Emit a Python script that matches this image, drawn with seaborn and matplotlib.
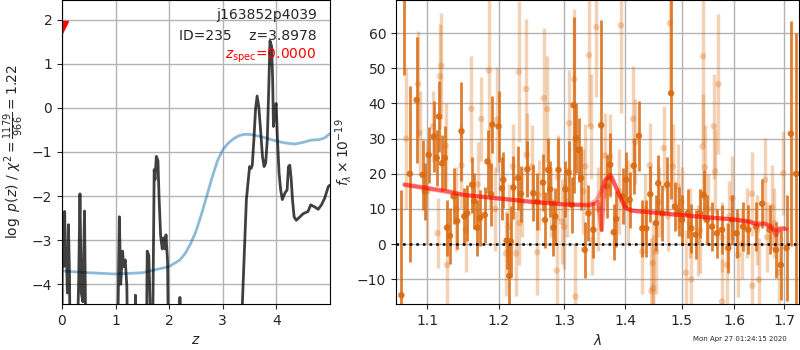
import numpy as np
import pandas as pd
import matplotlib
matplotlib.use("Agg")
import matplotlib.pyplot as plt
import matplotlib.ticker as mticker
import seaborn as sns

# ---------------- data: left panel ----------------
z_grid = [0.0, 0.005, 0.02, 0.035, 0.05, 0.065, 0.08, 0.10, 0.12, 0.14, 0.155,
          0.27, 0.31, 0.335, 0.36, 0.39, 0.42, 0.45,
          1.03, 1.07, 1.095, 1.13, 1.15, 1.18, 1.21, 1.23,
          1.35, 1.37, 1.39,
          1.57, 1.59, 1.62, 1.64, 1.67, 1.685, 1.72, 1.735, 1.76, 1.79, 1.81,
          1.84, 1.87, 1.89, 1.92, 1.94, 1.97, 1.99,
          2.18, 2.20, 2.22,
          3.36, 3.44, 3.50, 3.53, 3.55, 3.58, 3.61, 3.64, 3.67, 3.70, 3.74,
          3.77, 3.80, 3.83, 3.86, 3.88, 3.91, 3.93, 3.945, 3.97, 3.995, 4.02,
          4.05, 4.08, 4.11, 4.16, 4.20, 4.225, 4.25, 4.275, 4.30, 4.33, 4.37,
          4.44, 4.50, 4.59, 4.64, 4.72, 4.78, 4.84, 4.90, 4.97, 5.0]
logpz = [-6, -2.8, -2.76, -3.6, -2.35, -3.5, -3.2, -4.2, -2.65, -3.8, -6,
         -6, -4.0, -1.95, -4.2, -4.4, -2.34, -6,
         -6, -2.47, -4.0, -3.25, -3.6, -3.45, -4.05, -6,
         -6, -4.25, -6,
         -6, -3.25, -3.35, -4.3, -6, -6, -1.4, -1.63, -1.1, -1.2, -2.0,
         -2.9, -3.2, -2.95, -3.2, -2.88, -3.5, -6,
         -6, -4.3, -6,
         -4.6, -2.08, -1.33, -1.37, -1.3, -0.72, -0.04, 0.27, 0.04, -0.42, -1.1,
         -1.33, -1.25, -0.72, 0.57, 1.52, 1.4, 0.65, -0.42, -0.04, 0.1, -0.72,
         -1.48, -1.86, -2.08, -1.93, -1.86, -1.33, -1.3, -1.6, -2.08, -2.47, -2.55,
         -2.47, -2.4, -2.35, -2.2, -2.25, -2.3, -2.2, -2.05, -1.78, -1.75]

z_chi = [0.0, 0.5, 1.0, 1.5, 2.0, 2.2, 2.3, 2.4, 2.5, 2.6, 2.7, 2.8, 2.9, 3.0,
         3.1, 3.2, 3.3, 3.4, 3.5, 3.6, 3.7, 3.8, 3.9, 4.0, 4.1, 4.2, 4.35,
         4.5, 4.65, 4.8, 4.9, 5.0]
chi_scaled = [-3.7, -3.74, -3.77, -3.74, -3.6, -3.45, -3.3, -3.08, -2.8, -2.42,
              -2.0, -1.58, -1.2, -0.95, -0.8, -0.7, -0.63, -0.6, -0.6, -0.62,
              -0.65, -0.68, -0.72, -0.75, -0.78, -0.8, -0.82, -0.78, -0.73,
              -0.72, -0.68, -0.58]

# ---------------- data: right panel ----------------
wave_a = [1.066, 1.070, 1.077, 1.086, 1.094, 1.097, 1.102, 1.109, 1.113, 1.116,
          1.120, 1.124, 1.127, 1.131, 1.136, 1.141, 1.147, 1.151, 1.155, 1.162,
          1.165, 1.169, 1.173, 1.180, 1.184, 1.189, 1.191, 1.200, 1.205, 1.207,
          1.212, 1.216, 1.218, 1.222, 1.229, 1.233, 1.243, 1.252, 1.258, 1.267,
          1.270, 1.275, 1.278, 1.283, 1.286, 1.291, 1.302, 1.307, 1.312, 1.315,
          1.319, 1.323, 1.327, 1.333, 1.339, 1.347, 1.360, 1.370, 1.375, 1.381,
          1.385, 1.396, 1.402, 1.408, 1.415, 1.424, 1.430, 1.437, 1.444, 1.454,
          1.458, 1.465, 1.474, 1.481, 1.488, 1.495, 1.501, 1.511, 1.518, 1.526,
          1.534, 1.541, 1.547, 1.557, 1.566, 1.576, 1.588, 1.595, 1.604, 1.617,
          1.627, 1.643, 1.655, 1.670, 1.683, 1.693, 1.705, 1.714, 1.725]
flux_a = [-14.5, 75.0, 20.0, 41.0, 19.7, 15.0, 25.4, 30.6, 24.5, 36.3,
          23.0, 24.5, 4.7, 2.4, 13.6, 6.6, 32.1, 7.9, 8.8, 16.9,
          12.2, 4.7, 7.4, 8.3, 23.5, 14.2, 34.0, 33.5, 15.9, 18.3,
          1.0, -9.0, 0.8, 16.1, 18.8, 14.3, 21.3, 14.5, 12.1, 17.5,
          6.9, 21.1, 15.6, 4.7, 7.9, 21.1, 15.6, 20.4, 11.2, 39.5,
          30.1, 26.8, 18.8, -1.6, 8.8, 4.1, 33.8, 16.4, 22.6, 3.4,
          7.2, 13.6, 18.3, 12.6, 22.3, 30.8, 4.5, 4.5, 14.2, 6.0,
          17.3, 8.8, 16.9, 42.9, 10.7, 9.3, 6.9, 8.8, 4.5, 2.7,
          8.8, 14.0, 6.9, 5.0, 3.1, 4.1, -1.1, 6.9, 3.1, 5.0,
          4.1, 5.0, 11.5, 4.1, -1.6, -5.9, -1.1, 31.4, 20.0]
err_a = [30, 27, 25, 18, 10, 8, 8, 10, 8, 10,
         8, 9, 8, 8, 8, 8, 14, 8, 8, 8,
         8, 8, 8, 8, 9, 9, 8, 10, 9, 8,
         8, 10, 10, 9, 9, 8, 8, 8, 8, 8,
         8, 9, 8, 8, 8, 9, 8, 9, 8, 25,
         10, 9, 9, 8, 8, 8, 30, 9, 9, 8,
         8, 8, 8, 8, 8, 10, 8, 8, 8, 8,
         8, 8, 8, 30, 7, 7, 7, 7, 7, 7,
         7, 7, 7, 7, 7, 7, 7, 7, 7, 7,
         7, 7, 7, 7, 8, 10, 15, 32, 40]

wave_b = [1.072, 1.088, 1.090, 1.100, 1.108, 1.114, 1.117, 1.119, 1.125, 1.127,
          1.140, 1.147, 1.153, 1.161, 1.170, 1.175, 1.186, 1.188, 1.195, 1.198,
          1.211, 1.215, 1.221, 1.226, 1.230, 1.231, 1.235, 1.241, 1.242, 1.250,
          1.258, 1.260, 1.268, 1.273, 1.280, 1.288, 1.290, 1.296, 1.300, 1.305,
          1.308, 1.316, 1.318, 1.330, 1.334, 1.340, 1.343, 1.345, 1.352, 1.355,
          1.366, 1.375, 1.390, 1.393, 1.405, 1.414, 1.418, 1.430, 1.435, 1.443,
          1.446, 1.448, 1.449, 1.454, 1.460, 1.468, 1.475, 1.479, 1.484, 1.493,
          1.500, 1.508, 1.515, 1.518, 1.530, 1.534, 1.539, 1.540, 1.543, 1.550,
          1.560, 1.563, 1.569, 1.575, 1.576, 1.586, 1.590, 1.596, 1.607, 1.615,
          1.625, 1.634, 1.635, 1.645, 1.648, 1.661, 1.665, 1.675, 1.680, 1.690,
          1.698]
flux_b = [30.0, 45.5, 31.6, 15.0, 33.5, 3.1, 47.7, 50.7, 28.0, -5.9,
          10.0, 22.4, 4.1, 38.5, 17.0, 35.6, 49.4, 22.1, 10.0, 35.4,
          -2.6, 5.0, 22.1, -2.6, 49.0, 6.0, 12.0, 44.1, 25.4, 22.0,
          -2.3, 14.0, 41.5, 38.4, 12.0, -7.5, 19.0, 6.4, 5.0, 12.0,
          34.4, 46.9, -14.9, 15.0, 22.1, 53.7, 33.5, 1.2, 61.7, 10.0,
          25.2, 25.0, 15.0, 62.2, 12.0, 35.6, 29.2, -2.1, 10.0, 22.4,
          -13.3, -5.4, -12.5, -2.1, 12.0, 27.3, 8.0, 62.8, 22.1, 16.4,
          12.0, -8.1, 6.0, -10.0, 1.0, 3.8, 27.8, 53.4, 21.9, 10.0,
          33.5, 20.7, 45.5, 2.0, -16.3, -5.9, 8.0, 13.1, -3.0, 0.0,
          6.0, 14.3, -11.8, 4.0, -10.1, 18.3, 2.0, 10.5, 6.0, -8.0,
          20.2]
err_b = [20, 15, 12, 15, 10, 10, 15, 15, 12, 12,
         12, 12, 12, 15, 12, 12, 20, 12, 12, 15,
         12, 12, 12, 12, 20, 12, 10, 20, 12, 12,
         12, 10, 20, 15, 10, 15, 12, 12, 12, 10,
         15, 20, 15, 12, 12, 20, 15, 10, 20, 12,
         12, 12, 12, 25, 12, 15, 12, 12, 10, 12,
         15, 12, 15, 12, 10, 12, 10, 20, 12, 12,
         10, 12, 10, 12, 10, 12, 15, 25, 12, 10,
         15, 12, 20, 10, 12, 12, 10, 12, 12, 10,
         10, 12, 12, 10, 12, 12, 10, 12, 10, 12,
         12]

wave_m1 = [1.070, 1.100, 1.130, 1.150, 1.200, 1.250, 1.300, 1.340, 1.350,
           1.355, 1.358, 1.361, 1.366, 1.375, 1.388, 1.400, 1.412, 1.450, 1.500,
           1.550, 1.600, 1.630, 1.645, 1.660, 1.675, 1.683, 1.690, 1.700, 1.705]
flux_m1 = [17.0, 16.0, 15.0, 14.0, 13.0, 12.0, 11.3, 11.0, 11.5,
           12.0, 8.0, 4.0, 18.0, 19.8, 15.0, 10.5, 9.5, 9.0, 8.3,
           7.6, 7.0, 6.5, 5.5, 5.9, 5.0, 2.5, 4.5, 4.5, 4.3]
wave_m2 = [1.070, 1.100, 1.150, 1.200, 1.250, 1.300, 1.340, 1.352, 1.360,
           1.368, 1.378, 1.390, 1.402, 1.420, 1.500, 1.600, 1.640, 1.660,
           1.680, 1.700]
flux_m2 = [16.8, 15.8, 14.0, 13.0, 12.1, 11.3, 11.2, 12.5, 15.0,
           18.5, 19.0, 14.0, 10.0, 9.4, 8.2, 7.0, 6.0, 5.8, 4.0, 4.4]

# ---------------- plotting ----------------
sns.set_style("ticks", {"axes.grid": True, "grid.color": "0.7",
                        "axes.edgecolor": "black", "xtick.direction": "out",
                        "ytick.direction": "out"})
plt.rcParams['font.family'] = ['DejaVu Sans']
plt.rcParams['font.size'] = 10
plt.rcParams['xtick.labelsize'] = 10
plt.rcParams['ytick.labelsize'] = 10
plt.rcParams['grid.linewidth'] = 1.0

fig = plt.figure(figsize=(8, 3.5), dpi=100)
ax1 = fig.add_axes([62/800, 46/350, 268/800, 304/350])
ax2 = fig.add_axes([396/800, 46/350, 403/800, 304/350])

# left
df_p = pd.DataFrame({"z": z_grid, "logp": logpz})
df_c = pd.DataFrame({"z": z_chi, "chi": chi_scaled})
sns.lineplot(data=df_c, x="z", y="chi", ax=ax1, color="#1f77b4", alpha=0.5,
             lw=2, sort=False)
sns.lineplot(data=df_p, x="z", y="logp", ax=ax1, color="black", alpha=0.75,
             lw=2, sort=False)
ax1.plot([0.0], [1.83], marker="v", color="red", ms=8, ls="none")
ax1.set_xlim(0, 5.0)
ax1.set_ylim(-4.45, 2.45)
ax1.set_xticks([0, 1, 2, 3, 4])
ax1.set_yticks([-4, -3, -2, -1, 0, 1, 2])
ax1.set_xlabel("$z$")
ax1.set_ylabel(r"$\log\ p(z)$ / $\chi^2=\frac{1179}{966}=1.22$")
ax1.text(0.95, 0.975, "j163852p4039", transform=ax1.transAxes, ha="right",
         va="top", fontsize=10)
ax1.text(0.95, 0.905, "ID=235    z=3.8978", transform=ax1.transAxes,
         ha="right", va="top", fontsize=10)
ax1.text(0.95, 0.845, r"$z_\mathrm{spec}$=0.0000", transform=ax1.transAxes,
         ha="right", va="top", fontsize=10, color="red")

# right
dark = "#da6a10"
ax2.errorbar(wave_b, flux_b, yerr=err_b, fmt="none", ecolor=dark,
             alpha=0.3, elinewidth=2.5)
sns.scatterplot(x=wave_b, y=flux_b, ax=ax2, color=dark, alpha=0.3, s=22,
                edgecolor="none")
ax2.errorbar(wave_a, flux_a, yerr=err_a, fmt="none", ecolor=dark,
             alpha=0.85, elinewidth=2)
sns.scatterplot(x=wave_a, y=flux_a, ax=ax2, color=dark, alpha=0.9, s=22,
                edgecolor="none")
sns.lineplot(x=wave_m2, y=flux_m2, ax=ax2, color="red", alpha=0.35, lw=3,
             sort=False)
sns.lineplot(x=wave_m1, y=flux_m1, ax=ax2, color="red", alpha=0.45, lw=3,
             sort=False)
ax2.axhline(0, color="black", ls=":", lw=1.8, zorder=5)
ax2.set_xscale("log")
ax2.set_xlim(1.059, 1.731)
ax2.set_xticks([1.1, 1.2, 1.3, 1.4, 1.5, 1.6, 1.7])
ax2.xaxis.set_major_formatter(mticker.FormatStrFormatter("%.1f"))
ax2.xaxis.set_minor_locator(mticker.NullLocator())
ax2.set_ylim(-17, 69.4)
ax2.set_yticks([-10, 0, 10, 20, 30, 40, 50, 60])
ax2.set_xlabel(r"$\lambda$")
ax2.set_ylabel(r"$f_\lambda\times10^{-19}$")
ax2.yaxis.set_label_coords(-0.105, 0.5)

fig.text(0.984, 0.022, "Mon Apr 27 01:24:15 2020", ha="right", va="bottom",
         fontsize=5)

fig.savefig("out.png", dpi=100)
